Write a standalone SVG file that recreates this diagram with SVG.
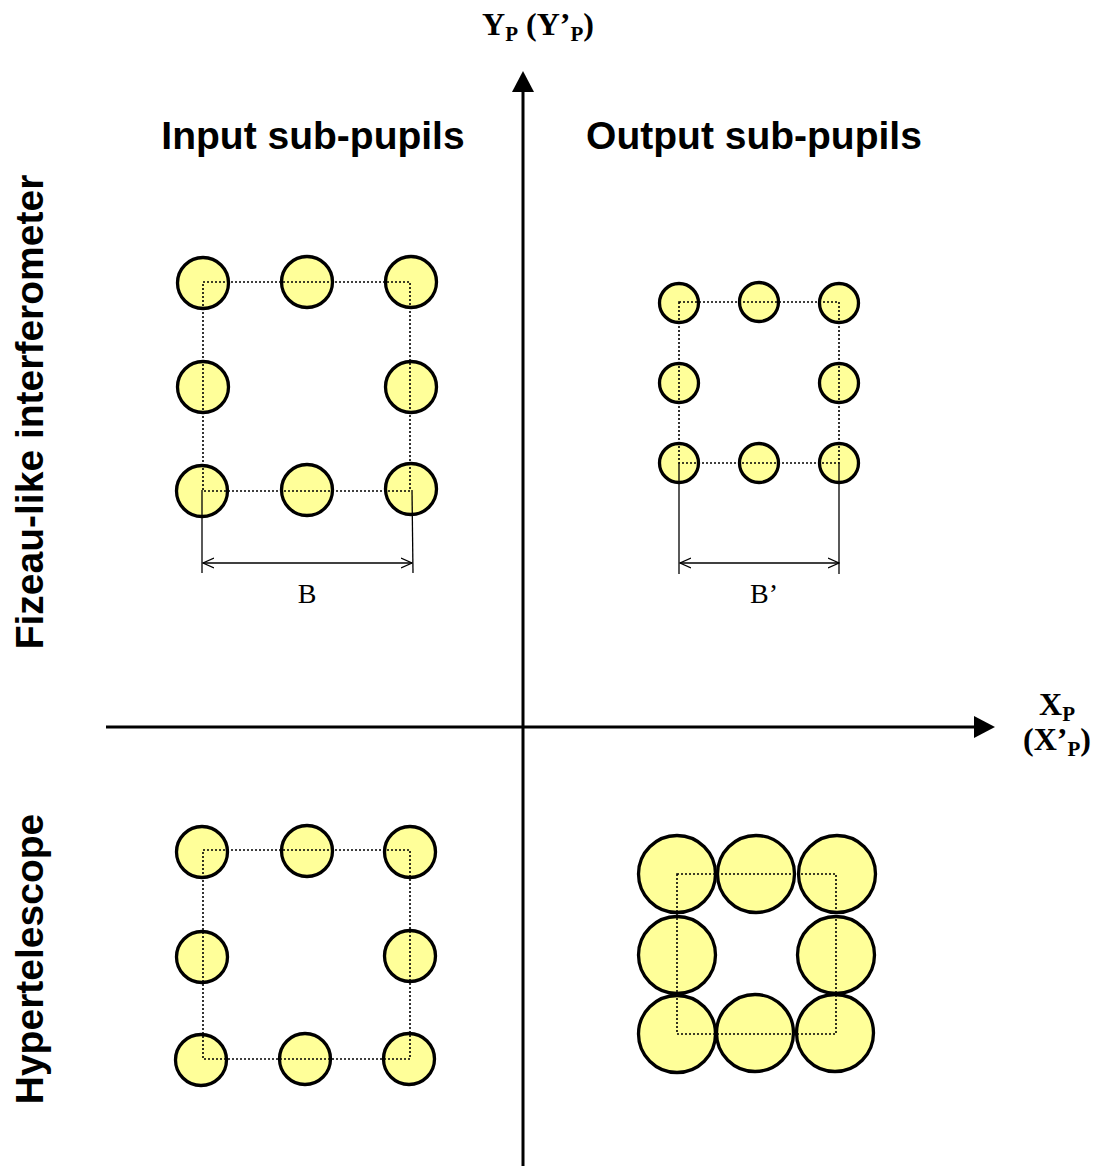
<svg xmlns="http://www.w3.org/2000/svg" width="1101" height="1166" viewBox="0 0 1101 1166">
<style>
.pup{fill:#FFFF99;stroke:#000;stroke-width:3.3}
.dot{fill:none;stroke:#000;stroke-width:1.6;stroke-dasharray:2,2}
.thin{fill:none;stroke:#000;stroke-width:1.3}
.axis{fill:none;stroke:#000;stroke-width:3}
.head{fill:#000}
.title{font-family:"Liberation Sans",Arial,sans-serif;font-weight:bold;font-size:39px;fill:#000}
.ser{font-family:"Liberation Serif","Times New Roman",serif;fill:#000}
</style>
<defs>
<marker id="open" markerWidth="12" markerHeight="12" refX="11" refY="6" orient="auto-start-reverse" markerUnits="userSpaceOnUse">
<path d="M0,1 L11,6 L0,11" fill="none" stroke="#000" stroke-width="1.3"/>
</marker>
</defs>
<rect width="1101" height="1166" fill="#fff"/>

<g id="input-fizeau">
<circle class="pup" cx="203" cy="283" r="25.5"/>
<circle class="pup" cx="307" cy="282" r="25.5"/>
<circle class="pup" cx="411" cy="282" r="25.5"/>
<circle class="pup" cx="203" cy="387" r="25.5"/>
<circle class="pup" cx="411" cy="387" r="25.5"/>
<circle class="pup" cx="202" cy="491" r="25.5"/>
<circle class="pup" cx="307" cy="490" r="25.5"/>
<circle class="pup" cx="411" cy="489" r="25.5"/>
</g>

<g id="output-fizeau">
<circle class="pup" cx="679" cy="303" r="19.5"/>
<circle class="pup" cx="759" cy="302" r="19.5"/>
<circle class="pup" cx="839" cy="303" r="19.5"/>
<circle class="pup" cx="679" cy="383" r="19.5"/>
<circle class="pup" cx="839" cy="383" r="19.5"/>
<circle class="pup" cx="679" cy="463" r="19.5"/>
<circle class="pup" cx="759" cy="463" r="19.5"/>
<circle class="pup" cx="839" cy="463" r="19.5"/>
</g>

<g id="input-hyper">
<circle class="pup" cx="202" cy="852" r="25.5"/>
<circle class="pup" cx="307" cy="851" r="25.5"/>
<circle class="pup" cx="410" cy="852" r="25.5"/>
<circle class="pup" cx="202" cy="957" r="25.5"/>
<circle class="pup" cx="410" cy="956" r="25.5"/>
<circle class="pup" cx="201" cy="1060" r="25.5"/>
<circle class="pup" cx="305" cy="1059" r="25.5"/>
<circle class="pup" cx="409" cy="1059" r="25.5"/>
</g>

<g id="output-hyper">
<circle class="pup" cx="677" cy="874" r="38.5"/>
<circle class="pup" cx="756" cy="874" r="38.5"/>
<circle class="pup" cx="837" cy="874" r="38.5"/>
<circle class="pup" cx="677" cy="955" r="38.5"/>
<circle class="pup" cx="836" cy="955" r="38.5"/>
<circle class="pup" cx="677" cy="1034" r="38.5"/>
<circle class="pup" cx="755" cy="1033" r="38.5"/>
<circle class="pup" cx="835" cy="1033" r="38.5"/>
</g>

<g id="connectors">
<line class="axis" x1="523" y1="1166" x2="523" y2="88"/>
<polygon class="head" points="523,71 512,92 534,92"/>
<line class="axis" x1="106" y1="727" x2="978" y2="727"/>
<polygon class="head" points="995,727 974,716 974,738"/>
<rect class="dot" x="203" y="282" width="207" height="209"/>
<rect class="dot" x="679" y="302" width="160" height="161"/>
<rect class="dot" x="203" y="850" width="207" height="209"/>
<rect class="dot" x="677" y="874" width="159" height="160"/>
<line class="thin" x1="202" y1="490" x2="202" y2="573"/>
<line class="thin" x1="412" y1="490" x2="413" y2="573"/>
<line class="thin" x1="203" y1="563" x2="412" y2="563" marker-start="url(#open)" marker-end="url(#open)"/>
<line class="thin" x1="679" y1="463" x2="679" y2="574"/>
<line class="thin" x1="839" y1="463" x2="839" y2="574"/>
<line class="thin" x1="680" y1="563" x2="839" y2="563" marker-start="url(#open)" marker-end="url(#open)"/>
</g>

<g id="labels">
<text class="title" x="313" y="149" text-anchor="middle">Input sub-pupils</text>
<text class="title" x="754" y="149" text-anchor="middle">Output sub-pupils</text>
<text class="title" transform="translate(43,412) rotate(-90)" text-anchor="middle">Fizeau-like interferometer</text>
<text class="title" transform="translate(43,959) rotate(-90)" text-anchor="middle">Hypertelescope</text>
<text class="ser" x="307" y="603" font-size="28" text-anchor="middle">B</text>
<text class="ser" x="764" y="603" font-size="28" text-anchor="middle">B’</text>
<text class="ser" x="538" y="35" font-size="32" font-weight="bold" text-anchor="middle">Y<tspan font-size="21" dy="6">P</tspan><tspan dy="-6"> (Y’</tspan><tspan font-size="21" dy="6">P</tspan><tspan dy="-6">)</tspan></text>
<text class="ser" x="1057" y="715" font-size="32" font-weight="bold" text-anchor="middle">X<tspan font-size="21" dy="6">P</tspan></text>
<text class="ser" x="1057" y="750" font-size="32" font-weight="bold" text-anchor="middle">(X’<tspan font-size="21" dy="6">P</tspan><tspan dy="-6">)</tspan></text>
</g>
</svg>
